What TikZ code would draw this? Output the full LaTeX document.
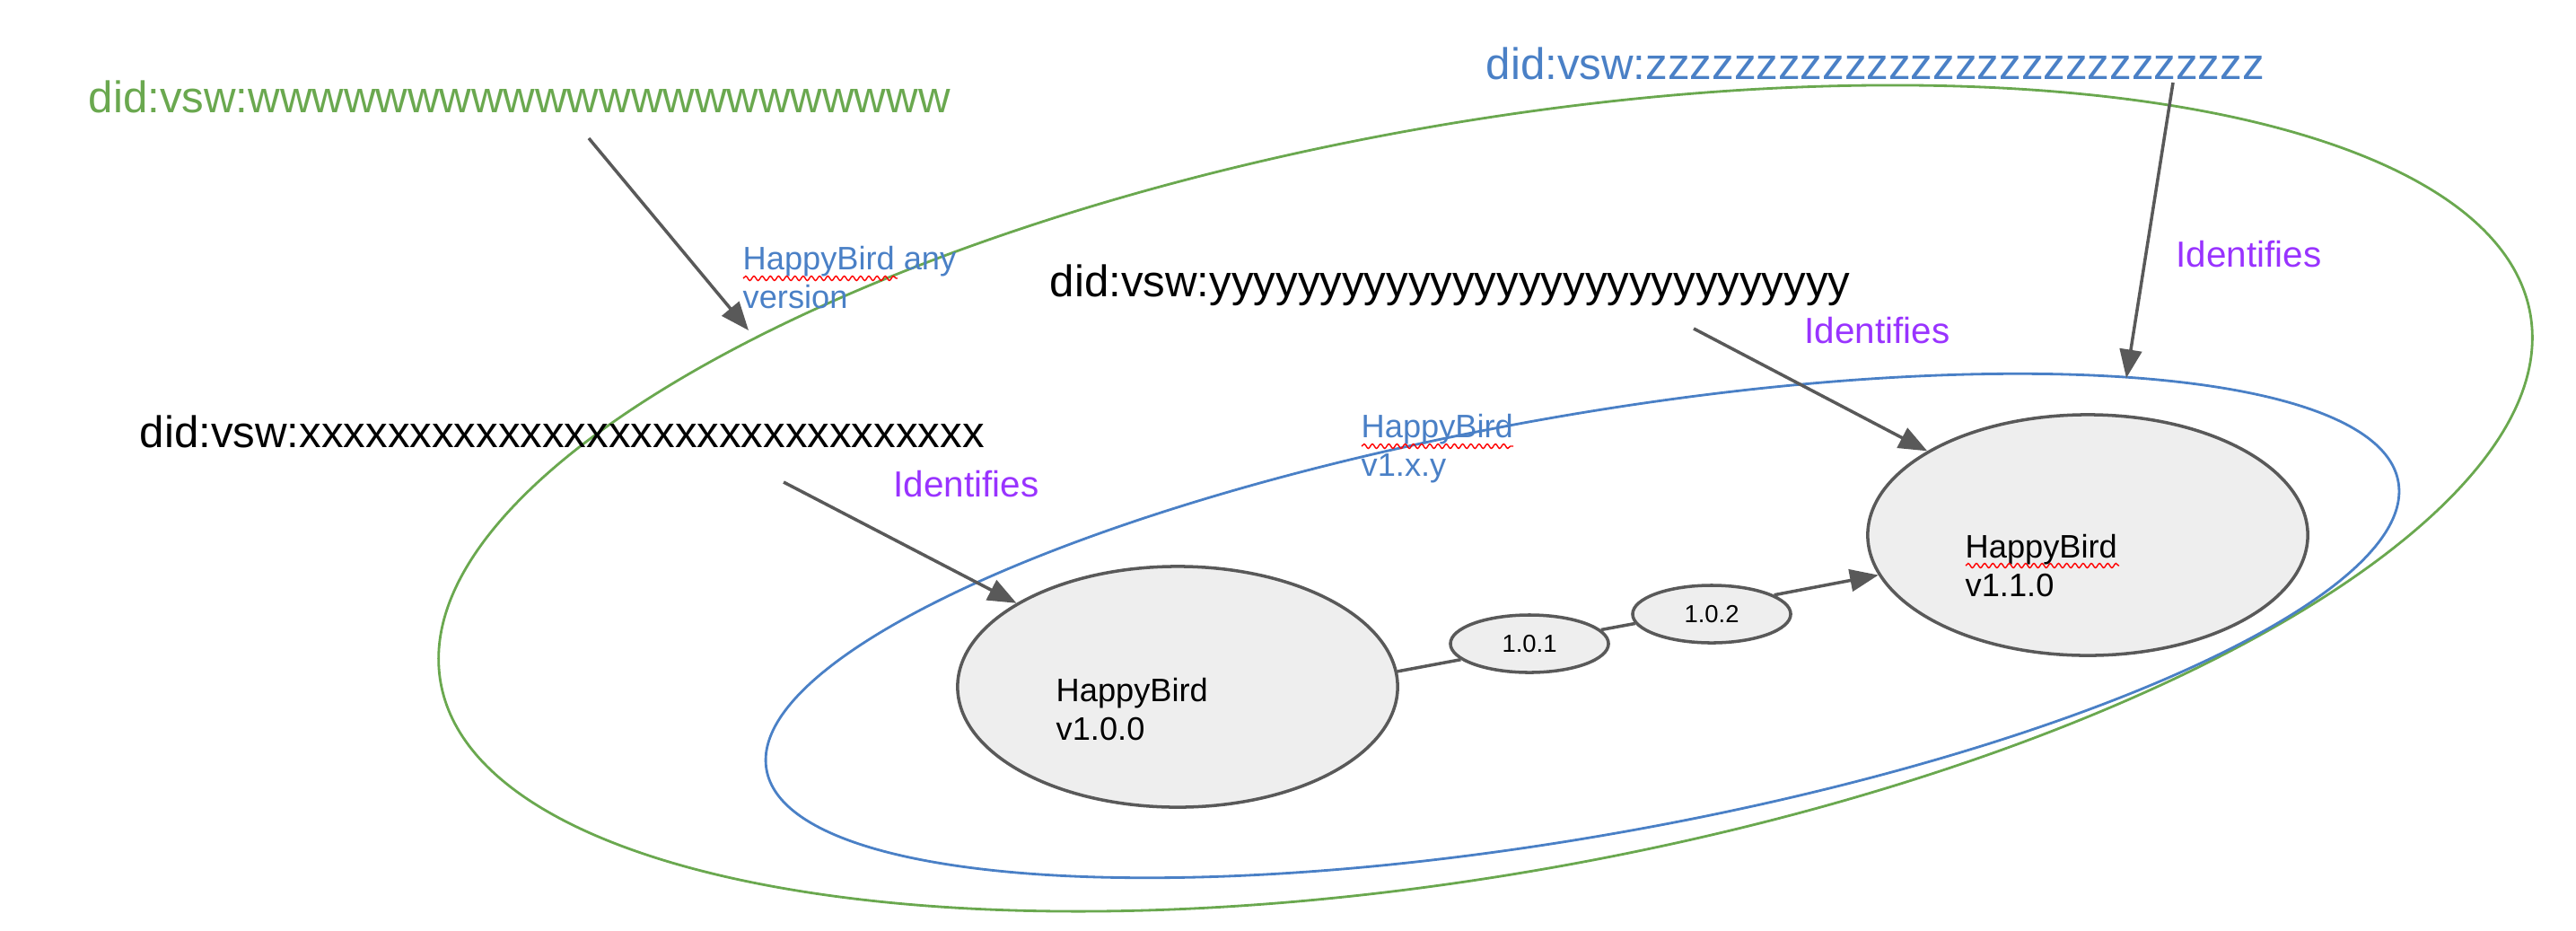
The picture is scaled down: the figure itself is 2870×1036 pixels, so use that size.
\documentclass[tikz,border=0pt]{standalone}
\usepackage{fontspec}
\setmainfont{Liberation Sans}
\usetikzlibrary{shapes.geometric,arrows.meta,decorations.pathmorphing}
\definecolor{grn}{HTML}{6AA84F}
\definecolor{blu}{HTML}{4A80C6}
\definecolor{prp}{HTML}{9933FF}
\definecolor{gry}{HTML}{595959}
\definecolor{fil}{HTML}{EEEEEE}
\tikzset{
  did/.style={anchor=base west, inner sep=0pt, font=\fontsize{14}{17}\selectfont},
  lbl/.style={anchor=north west, inner sep=0pt, align=left, font=\fontsize{10.3}{12.2}\selectfont},
  idf/.style={anchor=base west, inner sep=0pt, text=prp, font=\fontsize{11.5}{13}\selectfont},
  ver/.style={ellipse, draw=gry, fill=fil, line width=1pt, minimum width=4.9cm, minimum height=2.68cm},
  sub/.style={ellipse, draw=gry, fill=fil, line width=1pt, inner sep=0pt,
    minimum width=1.76cm, minimum height=0.64cm, font=\fontsize{7.8}{9}\selectfont},
  con/.style={draw=gry, line width=1pt},
  arr/.style={con, -{Triangle[length=9pt,width=7pt]}},
  spell/.style={draw=red, line width=0.4pt, decorate,
    decoration={snake, amplitude=0.7pt, segment length=2.6pt}}
}
\begin{document}
\begin{tikzpicture}[x=0.01cm, y=-0.01cm]
\useasboundingbox (0,0) rectangle (2870,1036);
\def\anyloop{(1655,555) ellipse (1182 and 418)}
\def\oneloop{(1763,697) ellipse (923 and 234)}

\draw[grn, line width=0.8pt, rotate around={10:(1655,555)}] \anyloop;
\draw[blu, line width=0.8pt, rotate around={10:(1763,697)}] \oneloop;

\node[did, text=grn] (wid) at (98,125) {did:vsw:wwwwwwwwwwwwwwwwwwwwww};
\node[did, text=blu] (zid) at (1655,88) {did:vsw:zzzzzzzzzzzzzzzzzzzzzzzzzzzz};
\node[did] (yid) at (1169,330) {did:vsw:yyyyyyyyyyyyyyyyyyyyyyyyyyyyy};
\node[did] (xid) at (155,498) {did:vsw:xxxxxxxxxxxxxxxxxxxxxxxxxxxxxxx};

\node[lbl, text=blu] (anyv) at (827,274) {HappyBird any\\version};
\node[lbl, text=blu] (onex) at (1516,461) {HappyBird\\v1.x.y};

\node[ver] (v100) at (1312,765) {};
\node[ver] (v110) at (2326,596) {};
\node[sub] (n101) at (1704,717) {1.0.1};
\node[sub] (n102) at (1907,684) {1.0.2};
\node[lbl] (t100) at (1176,755) {HappyBird\\v1.0.0};
\node[lbl] (t110) at (2189,595) {HappyBird\\v1.1.0};

\node[idf] (idx) at (995,553) {Identifies};
\node[idf] (idy) at (2010,382) {Identifies};
\node[idf] (idz) at (2424,297) {Identifies};

\coordinate (wst) at (656,154);
\coordinate (wen) at (834,368);
\coordinate (xst) at (873,537);
\coordinate (yst) at (1887,366);
\coordinate (zst) at (2421,92);
\coordinate (zen) at (2369,421);

\draw[arr] (wst) -- (wen);
\draw[arr] (xst) -- (v100);
\draw[arr] (yst) -- (v110);
\draw[arr] (zst) -- (zen);
\draw[con] (v100.4) -- (n101.193);
\draw[con] (n101.11) -- (n102.187);
\draw[arr] (n102.17) -- (v110);

\draw[spell] (828,310) -- (1000,310);
\draw[spell] (1517,497) -- (1686,497);
\draw[spell] (2190,630) -- (2361,630);
\end{tikzpicture}
\end{document}
